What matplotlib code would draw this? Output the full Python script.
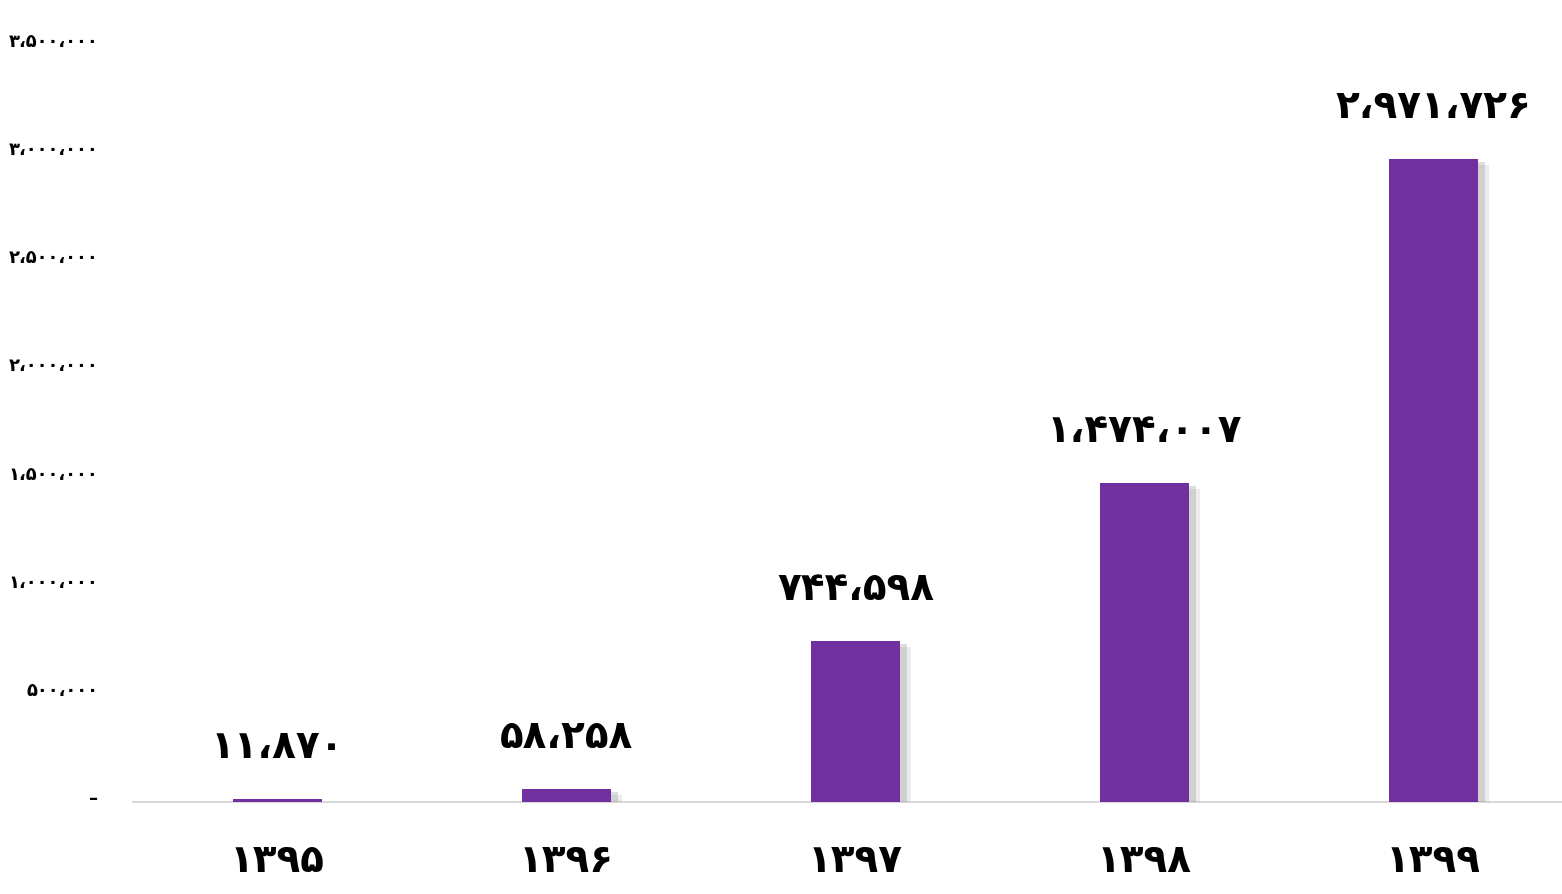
import matplotlib
matplotlib.use("Agg")
import matplotlib.pyplot as plt
import matplotlib.patheffects as pe
from matplotlib.transforms import ScaledTranslation

# data
years = ["۱۳۹۵", "۱۳۹۶", "۱۳۹۷", "۱۳۹۸", "۱۳۹۹"]
values = [11870, 58258, 744598, 1474007, 2971726]
yticks = [0, 500000, 1000000, 1500000, 2000000, 2500000, 3000000, 3500000]

FA = str.maketrans("0123456789,", "۰۱۲۳۴۵۶۷۸۹،")


def fa_num(v):
    if v == 0:
        return "–"
    return f"{v:,}".translate(FA)


plt.rcParams['font.family'] = ['DejaVu Sans']

fig = plt.figure(figsize=(15.62, 8.94), dpi=100)
ax = fig.add_axes([133 / 1562, (894 - 802) / 894, 1445 / 1562, (802 - 45) / 894])

x = range(len(years))
bars = ax.bar(x, values, width=0.31, color='#7030A0', zorder=3)
for b in bars:
    b.set_path_effects([pe.SimplePatchShadow(offset=(8, -4), shadow_rgbFace='#a0a0a0', alpha=0.2),
                        pe.SimplePatchShadow(offset=(5, -2), shadow_rgbFace='#909090', alpha=0.3),
                        pe.Normal()])

for xi, v in zip(x, values):
    ax.annotate(fa_num(v), (xi, v), xytext=(0, 24), textcoords='offset points',
                ha='center', va='bottom', fontsize=28, fontweight='bold', color='black')

ax.set_xlim(-0.5, 4.5)
ax.set_ylim(0, 3500000)
ax.set_xticks(list(x))
ax.set_xticklabels(years, fontsize=28, fontweight='bold')
ax.set_yticks(yticks)
ax.set_yticklabels([fa_num(t) for t in yticks], fontsize=13, fontweight='bold')
ax.tick_params(axis='both', length=0)
ax.tick_params(axis='x', pad=29)
ax.tick_params(axis='y', pad=25)

# y labels sit a few pixels above their gridline in the original
up = ScaledTranslation(0, 5 / 100, fig.dpi_scale_trans)
for lbl in ax.get_yticklabels():
    lbl.set_transform(lbl.get_transform() + up)

for s in ['top', 'right', 'left']:
    ax.spines[s].set_visible(False)
ax.spines['bottom'].set_color('#D9D9D9')
ax.spines['bottom'].set_linewidth(1.5)

fig.savefig("out.png", dpi=100)
